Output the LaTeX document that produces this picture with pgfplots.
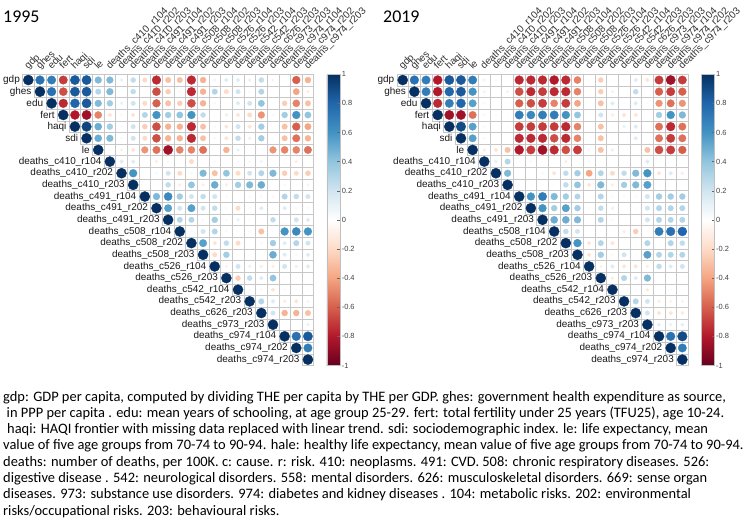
\documentclass[border=0pt]{standalone}
\usepackage{pgfplots}
\pgfplotsset{compat=1.18}
\usepackage{pgfplotstable}
\usepackage{fontspec}
\setmainfont{Carlito}
\newfontfamily\arial{Liberation Sans}
\pgfplotsset{
  colormap={rdbu}{rgb255=(103,0,31) rgb255=(178,24,43) rgb255=(214,96,77) rgb255=(244,165,130) rgb255=(253,219,199) rgb255=(255,255,255) rgb255=(209,229,240) rgb255=(146,197,222) rgb255=(67,147,195) rgb255=(33,102,172) rgb255=(5,48,97)},
  corrax/.style={
    anchor=north west, scale only axis, width=291.25bp, height=291.25bp,
    xmin=-0.5, xmax=24.5, ymin=-0.5, ymax=24.5, y dir=reverse,
    hide axis, clip=false,
    colormap name=rdbu, point meta min=-1, point meta max=1,
    colorbar,
    colorbar style={
      at={(parent axis.north east)}, anchor=north west, xshift=4.5bp,
      scale only axis, width=13bp, height=291.25bp,
      ytick={-1,-0.8,-0.6,-0.4,-0.2,0,0.2,0.4,0.6,0.8,1},
      yticklabels={-1,-0.8,-0.6,-0.4,-0.2,0,0.2,0.4,0.6,0.8,1},
      yticklabel style={font=\arial\fontsize{7.5}{9}\selectfont, text=black!75, xshift=-1.5bp},
      ytick pos=right, major tick length=2.5bp,
      ytick style={draw=black!60, line width=0.4bp},
      axis line style={draw=black!25, line width=0.4bp},
    },
  },
  gridplot/.style={only marks, mark=square, mark size=5.825bp, mark options={draw=black!22, fill=none, line width=0.6bp}, forget plot},
  circplot/.style={scatter, only marks, mark=*, scatter src=explicit,
     scatter/use mapped color={draw=mapped color, fill=mapped color, line width=0.3bp},
     visualization depends on={5.1*sqrt(abs(\thisrow{r}))\as\rad},
     scatter/@pre marker code/.append style={/tikz/mark size=\rad}},
}
\def\labs{gdp,ghes,edu,fert,haqi,sdi,le,deaths\_c410\_r104,deaths\_c410\_r202,deaths\_c410\_r203,deaths\_c491\_r104,deaths\_c491\_r202,deaths\_c491\_r203,deaths\_c508\_r104,deaths\_c508\_r202,deaths\_c508\_r203,deaths\_c526\_r104,deaths\_c526\_r203,deaths\_c542\_r104,deaths\_c542\_r203,deaths\_c626\_r203,deaths\_c973\_r203,deaths\_c974\_r104,deaths\_c974\_r202,deaths\_c974\_r203}
\newcommand\drawlabels[1]{%
 \foreach \lab [count=\i from 0] in \labs {%
   \node[anchor=east, inner sep=0pt, font=\arial\fontsize{10}{12}\selectfont, text=black!90] at ({#1bp+11.65bp*\i-2.5bp},{-80.025bp-11.65bp*\i}) {\lab};
   \node[anchor=base west, rotate=45, inner sep=0pt, font=\arial\fontsize{10}{12}\selectfont, text=black!80] at ({#1bp+5.825bp+11.65bp*\i},{-70bp}) {\lab};
 }}
\begin{document}
\pgfplotstableread[row sep=\\]{x y r\\
0 0 1\\ 1 0 0.75\\ 2 0 0.7\\ 3 0 -0.7\\ 4 0 0.85\\ 5 0 0.85\\ 6 0 0.45\\ 7 0 0.45\\ 8 0 0.1\\ 9 0 0.25\\ 10 0 -0.2\\ 11 0 -0.75\\ 12 0 -0.3\\ 13 0 -0.3\\ 14 0 -0.75\\ 15 0 -0.35\\ 16 0 0.08\\ 17 0 0.15\\ 18 0 0.15\\ 19 0 0.1\\ 20 0 0.25\\ 21 0 -0.08\\ 22 0 0\\ 23 0 -0.6\\ 24 0 -0.35\\
1 1 1\\ 2 1 0.75\\ 3 1 -0.65\\ 4 1 0.85\\ 5 1 0.85\\ 6 1 0.3\\ 7 1 0.45\\ 8 1 0.02\\ 9 1 0.25\\ 10 1 0\\ 11 1 -0.65\\ 12 1 -0.25\\ 13 1 -0.05\\ 14 1 -0.75\\ 15 1 -0.35\\ 16 1 0.3\\ 17 1 -0.2\\ 18 1 0.2\\ 19 1 0.05\\ 20 1 0.3\\ 21 1 0\\ 22 1 0\\ 23 1 -0.4\\ 24 1 -0.1\\
2 2 1\\ 3 2 -0.75\\ 4 2 0.8\\ 5 2 0.85\\ 6 2 0.45\\ 7 2 0.35\\ 8 2 0.1\\ 9 2 0.2\\ 10 2 -0.2\\ 11 2 -0.6\\ 12 2 -0.3\\ 13 2 -0.25\\ 14 2 -0.65\\ 15 2 -0.35\\ 16 2 0.05\\ 17 2 0\\ 18 2 0.15\\ 19 2 0.2\\ 20 2 0.4\\ 21 2 0\\ 22 2 -0.25\\ 23 2 -0.5\\ 24 2 -0.3\\
3 3 1\\ 4 3 -0.8\\ 5 3 -0.85\\ 6 3 -0.5\\ 7 3 -0.15\\ 8 3 -0.05\\ 9 3 -0.15\\ 10 3 0.3\\ 11 3 0.6\\ 12 3 0.35\\ 13 3 0.4\\ 14 3 0.6\\ 15 3 0.25\\ 16 3 0.03\\ 17 3 0.1\\ 18 3 -0.15\\ 19 3 -0.2\\ 20 3 -0.45\\ 21 3 0.05\\ 22 3 0.35\\ 23 3 0.6\\ 24 3 0.4\\
4 4 1\\ 5 4 0.92\\ 6 4 0.5\\ 7 4 0.35\\ 8 4 0.05\\ 9 4 0.2\\ 10 4 -0.25\\ 11 4 -0.65\\ 12 4 -0.35\\ 13 4 -0.35\\ 14 4 -0.75\\ 15 4 -0.3\\ 16 4 -0.05\\ 17 4 -0.15\\ 18 4 0.2\\ 19 4 -0.15\\ 20 4 0.35\\ 21 4 0\\ 22 4 -0.3\\ 23 4 -0.6\\ 24 4 -0.4\\
5 5 1\\ 6 5 0.5\\ 7 5 0.45\\ 8 5 0.05\\ 9 5 0.2\\ 10 5 -0.2\\ 11 5 -0.65\\ 12 5 -0.35\\ 13 5 -0.35\\ 14 5 -0.75\\ 15 5 -0.3\\ 16 5 0.05\\ 17 5 -0.15\\ 18 5 0.25\\ 19 5 0.1\\ 20 5 0.35\\ 21 5 0\\ 22 5 -0.3\\ 23 5 -0.55\\ 24 5 -0.35\\
6 6 1\\ 7 6 0.03\\ 8 6 -0.08\\ 9 6 -0.15\\ 10 6 -0.45\\ 11 6 -0.55\\ 12 6 -0.85\\ 13 6 -0.5\\ 14 6 -0.5\\ 15 6 -0.55\\ 16 6 0\\ 17 6 -0.35\\ 18 6 0.1\\ 19 6 0\\ 20 6 0.02\\ 21 6 -0.45\\ 22 6 -0.5\\ 23 6 -0.5\\ 24 6 -0.55\\
7 7 1\\ 8 7 0.15\\ 9 7 0.15\\ 10 7 0.02\\ 11 7 -0.1\\ 12 7 0.05\\ 13 7 0.02\\ 14 7 -0.2\\ 15 7 0.02\\ 16 7 0.05\\ 17 7 0\\ 18 7 0.05\\ 19 7 0.05\\ 20 7 0.08\\ 21 7 0\\ 22 7 0.03\\ 23 7 -0.1\\ 24 7 0\\
8 8 1\\ 9 8 0.6\\ 10 8 0.02\\ 11 8 0.05\\ 12 8 0.2\\ 13 8 -0.2\\ 14 8 0.05\\ 15 8 0.45\\ 16 8 -0.3\\ 17 8 0.4\\ 18 8 -0.2\\ 19 8 0.2\\ 20 8 0.3\\ 21 8 0.45\\ 22 8 -0.25\\ 23 8 -0.2\\ 24 8 -0.25\\
9 9 1\\ 10 9 0.03\\ 11 9 0.02\\ 12 9 0.25\\ 13 9 -0.1\\ 14 9 0.4\\ 15 9 -0.1\\ 16 9 0.5\\ 17 9 -0.1\\ 18 9 0.35\\ 19 9 0.45\\ 20 9 0.5\\ 21 9 0\\ 22 9 0.05\\ 23 9 0.03\\ 24 9 -0.08\\
10 10 1\\ 11 10 0.45\\ 12 10 0.65\\ 13 10 0.35\\ 14 10 0.2\\ 15 10 0.25\\ 16 10 0.2\\ 17 10 0.05\\ 18 10 0\\ 19 10 -0.05\\ 20 10 0.05\\ 21 10 -0.05\\ 22 10 0.3\\ 23 10 0.25\\ 24 10 0.2\\
11 11 1\\ 12 11 0.55\\ 13 11 0.2\\ 14 11 0.55\\ 15 11 0.2\\ 16 11 0.25\\ 17 11 0.05\\ 18 11 -0.2\\ 19 11 -0.05\\ 20 11 0.15\\ 21 11 0.03\\ 22 11 0.15\\ 23 11 0.05\\ 24 11 0.05\\
12 12 1\\ 13 12 0.3\\ 14 12 0.3\\ 15 12 0.05\\ 16 12 0.35\\ 17 12 0.05\\ 18 12 0.1\\ 19 12 0.03\\ 20 12 0\\ 21 12 0.25\\ 22 12 0\\ 23 12 0.2\\ 24 12 0.15\\
13 13 1\\ 14 13 0.05\\ 15 13 0.2\\ 16 13 0.3\\ 17 13 0.05\\ 18 13 0.03\\ 19 13 -0.05\\ 20 13 -0.3\\ 21 13 0.03\\ 22 13 0.6\\ 23 13 0.65\\ 24 13 0.6\\
14 14 1\\ 15 14 0.55\\ 16 14 -0.15\\ 17 14 0.25\\ 18 14 -0.2\\ 19 14 0.03\\ 20 14 -0.05\\ 21 14 0.35\\ 22 14 0.15\\ 23 14 0.3\\ 24 14 0.2\\
15 15 1\\ 16 15 -0.2\\ 17 15 0.35\\ 18 15 0.03\\ 19 15 0.03\\ 20 15 0.03\\ 21 15 0.5\\ 22 15 0.15\\ 23 15 0.05\\ 24 15 0.15\\
16 16 1\\ 17 16 -0.08\\ 18 16 0.2\\ 19 16 -0.1\\ 20 16 -0.1\\ 21 16 -0.1\\ 22 16 0.2\\ 23 16 0.1\\ 24 16 0.15\\
17 17 1\\ 18 17 -0.25\\ 19 17 0.25\\ 20 17 0.15\\ 21 17 0.4\\ 22 17 0.03\\ 23 17 0.03\\ 24 17 0\\
18 18 1\\ 19 18 0.03\\ 20 18 -0.05\\ 21 18 -0.15\\ 22 18 0.05\\ 23 18 0.03\\ 24 18 0.03\\
19 19 1\\ 20 19 0.3\\ 21 19 0.15\\ 22 19 -0.1\\ 23 19 -0.15\\ 24 19 -0.08\\
20 20 1\\ 21 20 0.2\\ 22 20 -0.35\\ 23 20 -0.35\\ 24 20 -0.3\\
21 21 1\\ 22 21 0.03\\ 23 21 0.03\\ 24 21 0.1\\
22 22 1\\ 23 22 0.75\\ 24 22 0.85\\
23 23 1\\ 24 23 0.7\\
24 24 1\\
}\tabA
\pgfplotstableread[row sep=\\]{x y r\\
0 0 1\\ 1 0 0.75\\ 2 0 0.7\\ 3 0 -0.8\\ 4 0 0.85\\ 5 0 0.85\\ 6 0 0.7\\ 7 0 0.08\\ 8 0 0.05\\ 9 0 0\\ 10 0 -0.75\\ 11 0 -0.75\\ 12 0 -0.75\\ 13 0 -0.8\\ 14 0 -0.75\\ 15 0 -0.5\\ 16 0 -0.05\\ 17 0 -0.25\\ 18 0 0.03\\ 19 0 0.03\\ 20 0 0.15\\ 21 0 -0.15\\ 22 0 -0.7\\ 23 0 -0.85\\ 24 0 -0.7\\
1 1 1\\ 2 1 0.7\\ 3 1 -0.8\\ 4 1 0.8\\ 5 1 0.85\\ 6 1 0.6\\ 7 1 0.08\\ 8 1 0.03\\ 9 1 0.08\\ 10 1 -0.65\\ 11 1 -0.75\\ 12 1 -0.7\\ 13 1 -0.75\\ 14 1 -0.75\\ 15 1 -0.5\\ 16 1 0\\ 17 1 -0.25\\ 18 1 0.08\\ 19 1 0.03\\ 20 1 0.25\\ 21 1 0.02\\ 22 1 -0.6\\ 23 1 -0.7\\ 24 1 -0.6\\
2 2 1\\ 3 2 -0.75\\ 4 2 0.7\\ 5 2 0.8\\ 6 2 0.55\\ 7 2 0.05\\ 8 2 0\\ 9 2 0\\ 10 2 -0.6\\ 11 2 -0.65\\ 12 2 -0.7\\ 13 2 -0.5\\ 14 2 -0.7\\ 15 2 -0.4\\ 16 2 0\\ 17 2 -0.3\\ 18 2 0.15\\ 19 2 0.03\\ 20 2 0.15\\ 21 2 0.03\\ 22 2 -0.45\\ 23 2 -0.55\\ 24 2 -0.45\\
3 3 1\\ 4 3 -0.85\\ 5 3 -0.85\\ 6 3 -0.55\\ 7 3 -0.05\\ 8 3 -0.05\\ 9 3 0.03\\ 10 3 0.7\\ 11 3 0.65\\ 12 3 0.7\\ 13 3 0.7\\ 14 3 0.6\\ 15 3 0.4\\ 16 3 0.03\\ 17 3 0.2\\ 18 3 -0.1\\ 19 3 -0.15\\ 20 3 -0.15\\ 21 3 0.02\\ 22 3 0.35\\ 23 3 0.6\\ 24 3 0.45\\
4 4 1\\ 5 4 0.9\\ 6 4 0.55\\ 7 4 0.05\\ 8 4 0\\ 9 4 0.03\\ 10 4 -0.7\\ 11 4 -0.7\\ 12 4 -0.7\\ 13 4 -0.7\\ 14 4 -0.75\\ 15 4 -0.5\\ 16 4 0\\ 17 4 -0.3\\ 18 4 0.03\\ 19 4 0.1\\ 20 4 0.15\\ 21 4 0\\ 22 4 -0.55\\ 23 4 -0.75\\ 24 4 -0.55\\
5 5 1\\ 6 5 0.55\\ 7 5 0.05\\ 8 5 0.03\\ 9 5 0\\ 10 5 -0.75\\ 11 5 -0.75\\ 12 5 -0.75\\ 13 5 -0.65\\ 14 5 -0.75\\ 15 5 -0.5\\ 16 5 0\\ 17 5 -0.3\\ 18 5 0.03\\ 19 5 0.03\\ 20 5 0.15\\ 21 5 0\\ 22 5 -0.55\\ 23 5 -0.7\\ 24 5 -0.55\\
6 6 1\\ 7 6 -0.1\\ 8 6 -0.15\\ 9 6 -0.3\\ 10 6 -0.8\\ 11 6 -0.7\\ 12 6 -0.85\\ 13 6 -0.75\\ 14 6 -0.65\\ 15 6 -0.7\\ 16 6 -0.05\\ 17 6 -0.3\\ 18 6 0.1\\ 19 6 0\\ 20 6 0\\ 21 6 -0.3\\ 22 6 -0.65\\ 23 6 -0.7\\ 24 6 -0.6\\
7 7 1\\ 8 7 0.1\\ 9 7 0.3\\ 10 7 0.03\\ 11 7 -0.05\\ 12 7 0.03\\ 13 7 0.02\\ 14 7 -0.1\\ 15 7 0\\ 16 7 0.05\\ 17 7 0.03\\ 18 7 0\\ 19 7 0\\ 20 7 0\\ 21 7 0.15\\ 22 7 0.03\\ 23 7 0.03\\ 24 7 0.03\\
8 8 1\\ 9 8 0.45\\ 10 8 0\\ 11 8 0.03\\ 12 8 0.05\\ 13 8 -0.15\\ 14 8 0.25\\ 15 8 0.35\\ 16 8 -0.4\\ 17 8 0.3\\ 18 8 -0.2\\ 19 8 0.25\\ 20 8 0.45\\ 21 8 0.6\\ 22 8 -0.15\\ 23 8 0.15\\ 24 8 -0.1\\
9 9 1\\ 10 9 0.03\\ 11 9 0.03\\ 12 9 0.03\\ 13 9 0.03\\ 14 9 0.25\\ 15 9 0.4\\ 16 9 -0.15\\ 17 9 0.45\\ 18 9 -0.1\\ 19 9 0.35\\ 20 9 0.45\\ 21 9 0.55\\ 22 9 0.03\\ 23 9 0\\ 24 9 0\\
10 10 1\\ 11 10 0.6\\ 12 10 0.7\\ 13 10 0.45\\ 14 10 0.35\\ 15 10 0.3\\ 16 10 0.03\\ 17 10 0.3\\ 18 10 -0.05\\ 19 10 -0.05\\ 20 10 -0.05\\ 21 10 0.2\\ 22 10 0.35\\ 23 10 0.35\\ 24 10 0.35\\
11 11 1\\ 12 11 0.6\\ 13 11 0.35\\ 14 11 0.55\\ 15 11 0.35\\ 16 11 -0.05\\ 17 11 0.25\\ 18 11 -0.1\\ 19 11 0\\ 20 11 0.03\\ 21 11 0.2\\ 22 11 0.3\\ 23 11 0.3\\ 24 11 0.3\\
12 12 1\\ 13 12 0.5\\ 14 12 0.5\\ 15 12 0.45\\ 16 12 0\\ 17 12 0.3\\ 18 12 -0.05\\ 19 12 0\\ 20 12 0\\ 21 12 0.2\\ 22 12 0.3\\ 23 12 0.3\\ 24 12 0.3\\
13 13 1\\ 14 13 0.25\\ 15 13 0.2\\ 16 13 0.03\\ 17 13 0.03\\ 18 13 0\\ 19 13 -0.1\\ 20 13 -0.25\\ 21 13 0.03\\ 22 13 0.7\\ 23 13 0.75\\ 24 13 0.8\\
14 14 1\\ 15 14 0.6\\ 16 14 -0.15\\ 17 14 0.3\\ 18 14 -0.15\\ 19 14 0.03\\ 20 14 0.03\\ 21 14 0.3\\ 22 14 0.03\\ 23 14 0.3\\ 24 14 0.25\\
15 15 1\\ 16 15 -0.15\\ 17 15 0.35\\ 18 15 -0.05\\ 19 15 0.2\\ 20 15 0.03\\ 21 15 0.55\\ 22 15 0.3\\ 23 15 0.3\\ 24 15 0.3\\
16 16 1\\ 17 16 -0.08\\ 18 16 0.15\\ 19 16 -0.15\\ 20 16 -0.15\\ 21 16 -0.1\\ 22 16 0.25\\ 23 16 0.15\\ 24 16 0.2\\
17 17 1\\ 18 17 -0.1\\ 19 17 0.3\\ 20 17 0.15\\ 21 17 0.45\\ 22 17 0.03\\ 23 17 0.03\\ 24 17 0.03\\
18 18 1\\ 19 18 0\\ 20 18 -0.03\\ 21 18 -0.12\\ 22 18 0.03\\ 23 18 0.03\\ 24 18 0.03\\
19 19 1\\ 20 19 0.3\\ 21 19 0.2\\ 22 19 -0.1\\ 23 19 -0.08\\ 24 19 -0.08\\
20 20 1\\ 21 20 0.2\\ 22 20 -0.15\\ 23 20 -0.15\\ 24 20 -0.12\\
21 21 1\\ 22 21 0.12\\ 23 21 0.1\\ 24 21 0.12\\
22 22 1\\ 23 22 0.75\\ 24 22 0.9\\
23 23 1\\ 24 23 0.7\\
24 24 1\\
}\tabB
\begin{tikzpicture}
\path[use as bounding box] (0,0) rectangle (745bp,-521bp);
\begin{axis}[corrax, at={(22.5bp,-74.2bp)}]
\addplot[gridplot] table[x=x,y=y]{\tabA};
\addplot[circplot] table[x=x,y=y,meta=r]{\tabA};
\end{axis}
\begin{axis}[corrax, at={(396.9bp,-74.2bp)}]
\addplot[gridplot] table[x=x,y=y]{\tabB};
\addplot[circplot] table[x=x,y=y,meta=r]{\tabB};
\end{axis}
\drawlabels{22.5}
\drawlabels{396.9}
\node[anchor=base west, inner sep=0pt, font=\fontsize{18}{20}\selectfont] at (3bp,-22bp) {1995};
\node[anchor=base west, inner sep=0pt, font=\fontsize{18}{20}\selectfont] at (383bp,-22bp) {2019};
\begin{scope}[every node/.style={anchor=base west, inner sep=0pt, font=\fontsize{14.5}{16}\selectfont}]
\node at (3bp,-401bp) {gdp: GDP per capita, computed by dividing THE per capita by THE per GDP. ghes: government health expenditure as source,};
\node at (6.5bp,-417.3bp) {in PPP per capita . edu: mean years of schooling, at age group 25-29. fert: total fertility under 25 years (TFU25), age 10-24.};
\node at (7bp,-433.6bp) {haqi: HAQI frontier with missing data replaced with linear trend. sdi: sociodemographic index. le: life expectancy, mean};
\node at (3bp,-449.9bp) {value of five age groups from 70-74 to 90-94. hale: healthy life expectancy, mean value of five age groups from 70-74 to 90-94.};
\node at (3bp,-466.2bp) {deaths: number of deaths, per 100K. c: cause. r: risk. 410: neoplasms. 491: CVD. 508: chronic respiratory diseases. 526:};
\node at (3bp,-482.5bp) {digestive disease . 542: neurological disorders. 558: mental disorders. 626: musculoskeletal disorders. 669: sense organ};
\node at (3bp,-498.8bp) {diseases. 973: substance use disorders. 974: diabetes and kidney diseases . 104: metabolic risks. 202: environmental};
\node at (3bp,-515.1bp) {risks/occupational risks. 203: behavioural risks.};
\end{scope}
\end{tikzpicture}
\end{document}
